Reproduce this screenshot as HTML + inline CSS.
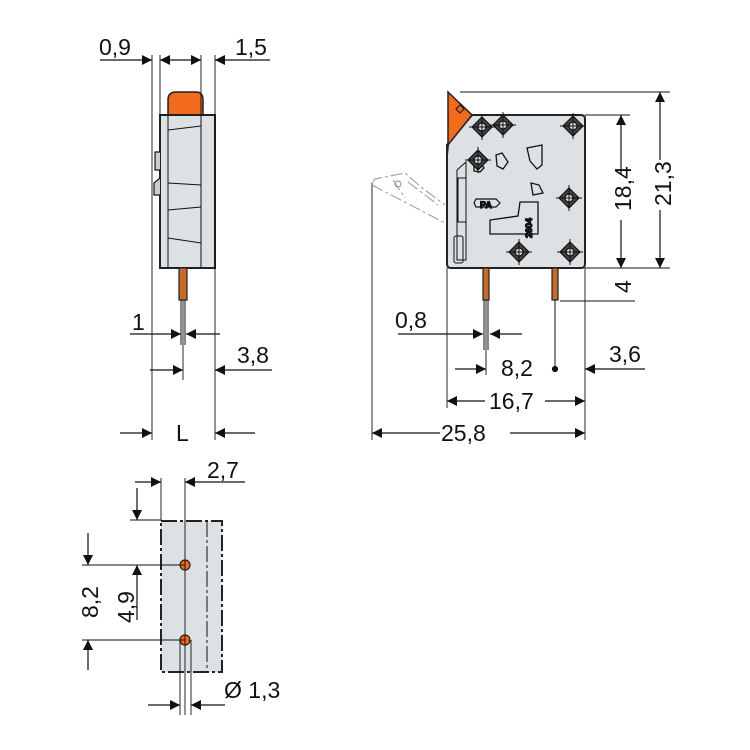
<!DOCTYPE html>
<html><head><style>
body{margin:0;background:#fff}
svg{display:block}
text{font-family:"Liberation Sans",sans-serif;font-size:23px;fill:#111}
</style></head><body>
<svg width="750" height="750" viewBox="0 0 750 750" xmlns="http://www.w3.org/2000/svg">
<defs>
<marker id="a" viewBox="0 0 10 10" refX="10" refY="5" markerWidth="14" markerHeight="10" markerUnits="userSpaceOnUse" orient="auto"><path d="M0,0L10,5L0,10z" fill="#111"/></marker>
<g id="dia"><path d="M0,-10L10,0L0,10L-10,0z" fill="#444" stroke="#111"/><circle r="4" fill="#ddd" stroke="#111"/><path d="M-13,0H13M0,-13V13" stroke="#111" stroke-width="1"/></g>
</defs>
<g stroke="#111" stroke-width="1.2" fill="none">
<path d="M168,115 V100 Q168,92 176,92 H196 Q203,92 203,100 V115z" fill="#f26a1b" stroke="#222" stroke-width="1.5"/>
<rect x="160" y="115" width="55" height="153" fill="#dde1e3" stroke="#222" stroke-width="2"/>
<path d="M168,115V268M201,115V268" stroke-width="1"/>
<path d="M168,130L201,126M168,183L201,185M168,210L201,207M168,238L201,243" stroke-width="1"/>
<path d="M160,152h-5v18h5M160,178l-6,5v12h6" fill="#ccc"/>
<rect x="179" y="268" width="8" height="32" fill="#c96a28" stroke="#222"/>
<path d="M181,300V345M185,300V345" stroke-width="1"/>
<path d="M152,55V440M215,55V440M160,55V115M201,55V115" stroke-width="0.9"/>
<path d="M100,60H152" marker-end="url(#a)"/>
<path d="M181,60H160" marker-end="url(#a)"/><path d="M181,60H201" marker-end="url(#a)"/>
<path d="M270,60H215" marker-end="url(#a)"/>
<path d="M130,334H181" marker-end="url(#a)"/><path d="M220,334H186" marker-end="url(#a)"/>
<path d="M183,300V380" stroke-width="0.9"/>
<path d="M150,370H183" marker-end="url(#a)"/><path d="M272,370H215" marker-end="url(#a)"/>
<path d="M120,433H152" marker-end="url(#a)"/><path d="M255,433H215" marker-end="url(#a)"/>
<path d="M372,440V183" stroke-width="0.9"/>
<path d="M372,183L375,179L405,173L421,187L445,205M372,185L445,223M393,180l12,18M408,182l30,23" stroke="#999" stroke-width="1" stroke-dasharray="12,3,3,3"/>
<circle cx="398" cy="184" r="3" stroke="#999"/>
<path d="M472,115H581Q585,115 585,119V264Q585,268 581,268H451Q447,268 447,264V145z" fill="#dde1e3" stroke="#222" stroke-width="2"/>
<path d="M448,92L472,115L448,145z" fill="#f26a1b" stroke="#222" stroke-width="1.5"/>
<path d="M456,109l4,-4l4,4l-4,4z" stroke="#222"/>
<path d="M448,145L447,155" stroke="#222" stroke-width="2"/>
<path d="M457,170L466,162V260H457z" stroke-width="1"/>
<rect x="454" y="236" width="9" height="27" rx="2" stroke-width="1"/>
<rect x="458" y="178" width="8" height="44" stroke-width="1"/>
<path d="M474,163l7,1l3,4l-4,4l-6,-1z M496,155l6,-2l6,9l-5,7l-6,-3z M527,148l15,-3v20l-5,4l-7,-8z M531,183l8,2l4,8l-10,2z M490,220l28,-4l2,-14h18v32h-48z" stroke-width="1.3"/>
<path d="M476,199h20l4,4l-4,4h-20l-2,-4z" stroke-width="1.2"/>
<text x="480" y="208" style="font-size:9px;font-weight:bold">PA</text>
<text transform="translate(532,238) rotate(-90)" style="font-size:9px;font-weight:bold">2604</text>
<use href="#dia" x="482" y="127"/><use href="#dia" x="503" y="125"/><use href="#dia" x="573" y="126"/>
<use href="#dia" x="478" y="160"/><use href="#dia" x="569" y="198"/><use href="#dia" x="519" y="252"/><use href="#dia" x="570" y="252"/>
<rect x="483" y="268" width="6" height="32" fill="#c96a28" stroke="#222"/>
<rect x="552" y="268" width="6" height="32" fill="#c96a28" stroke="#222"/>
<path d="M484,300V350M488,300V350M555,300V369" stroke-width="1"/>
<circle cx="555" cy="369" r="2.5" fill="#111"/>
<path d="M460,92H670M585,115H630M585,268H670M560,301H635" stroke-width="0.9"/>
<path d="M621,175V115" marker-end="url(#a)"/><path d="M621,220V268" marker-end="url(#a)"/>
<path d="M660,160V92" marker-end="url(#a)"/><path d="M660,210V268" marker-end="url(#a)"/>
<path d="M447,268V408M585,268V440M486,300V375" stroke-width="0.9"/>
<path d="M398,334H483" marker-end="url(#a)"/><path d="M522,334H490" marker-end="url(#a)"/>
<path d="M455,369H486" marker-end="url(#a)"/><path d="M645,369H585" marker-end="url(#a)"/>
<path d="M485,401H447" marker-end="url(#a)"/><path d="M545,401H585" marker-end="url(#a)"/>
<path d="M440,433H372" marker-end="url(#a)"/><path d="M510,433H585" marker-end="url(#a)"/>
<rect x="161" y="521" width="61" height="151" fill="#dde1e3" stroke="#222" stroke-width="2" stroke-dasharray="16,3,3,3"/>
<path d="M207,521V672" stroke-width="1" stroke-dasharray="16,3,3,3"/>
<circle cx="185" cy="565" r="5" fill="#f26a1b" stroke="#222"/>
<circle cx="185" cy="640" r="5" fill="#f26a1b" stroke="#222"/>
<path d="M185,478V715M161,478V521M180,640V715M191,640V715" stroke-width="0.9"/>
<path d="M130,520H161M82,565H185M82,640H185" stroke-width="0.9"/>
<path d="M135,482H161" marker-end="url(#a)"/><path d="M245,482H185" marker-end="url(#a)"/>
<path d="M137,488V520" marker-end="url(#a)"/>
<path d="M88,533V565" marker-end="url(#a)"/><path d="M88,670V640" marker-end="url(#a)"/>
<path d="M137,620V565" marker-end="url(#a)"/>
<path d="M148,705H180" marker-end="url(#a)"/><path d="M225,705H191" marker-end="url(#a)"/>
</g>
<text x="99" y="55">0,9</text><text x="235" y="55">1,5</text>
<text x="132" y="330">1</text><text x="237" y="363">3,8</text>
<text x="176" y="441">L</text>
<text x="395" y="328">0,8</text><text x="501" y="376">8,2</text><text x="609" y="362">3,6</text>
<text x="489" y="409">16,7</text><text x="441" y="441">25,8</text>
<text transform="translate(631,211) rotate(-90)">18,4</text>
<text transform="translate(671,206) rotate(-90)">21,3</text>
<text transform="translate(631,293) rotate(-90)">4</text>
<text x="207" y="478">2,7</text>
<text transform="translate(98,618) rotate(-90)">8,2</text>
<text transform="translate(134,623) rotate(-90)">4,9</text>
<text x="224" y="698">Ø 1,3</text>
</svg>
</body></html>
